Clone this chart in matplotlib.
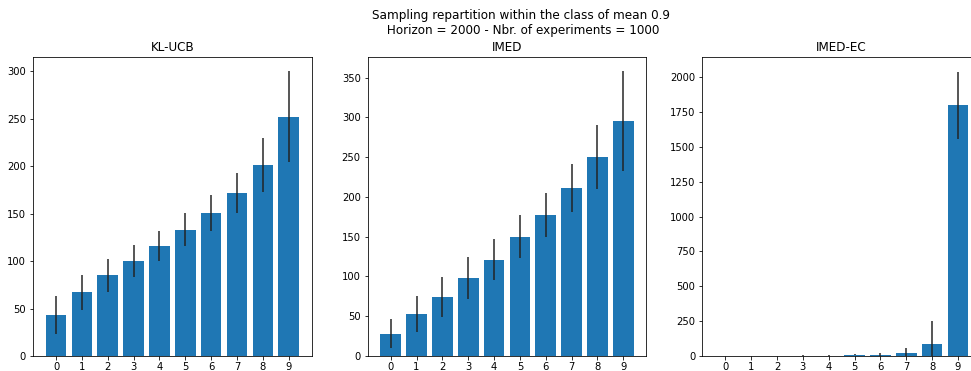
import numpy as np
import matplotlib
matplotlib.use("Agg")
import matplotlib.pyplot as plt

# -------------------------
# DATA
# -------------------------
arms = list(range(10))
titles = ["KL-UCB", "IMED", "IMED-EC"]

klucb_mean = [43, 67, 85, 100, 116, 133, 151, 172, 201, 252]
klucb_std = [20, 18.5, 17.5, 17, 16, 17.5, 19, 21, 28.5, 48]

imed_mean = [28, 53, 74, 98, 121, 150, 177, 211, 250, 295]
imed_std = [18, 23, 25, 26, 26, 27, 28, 30, 40, 63]

imedec_mean = [0, 0, 0, 1, 1, 8, 9, 21, 86, 1797]
imedec_std = [0, 0, 0, 3, 4, 4, 11, 36, 164, 242]

means = [klucb_mean, imed_mean, imedec_mean]
stds = [klucb_std, imed_std, imedec_std]

# -------------------------
# PLOT
# -------------------------
fig, axes = plt.subplots(1, 3, figsize=(971 / 72, 371 / 72), dpi=72)
fig.subplots_adjust(left=33 / 971, right=981 / 971, bottom=1 - 356 / 371,
                    top=1 - 57 / 371, wspace=56 / 279)

for ax, title, m, s in zip(axes, titles, means, stds):
    ax.bar(arms, m, yerr=s, color="#1f77b4", width=0.8,
           error_kw=dict(ecolor="#222222", elinewidth=1.5, capsize=0))
    ax.set_xticks(arms)
    ax.tick_params(axis="x", pad=2.5)
    ax.set_title(title)
    ax.set_ylim(bottom=0)

fig.suptitle("Sampling repartition within the class of mean 0.9\n"
             " Horizon = 2000 - Nbr. of experiments = 1000",
             x=521 / 971, y=0.975)

plt.savefig("out.png", dpi=72)
